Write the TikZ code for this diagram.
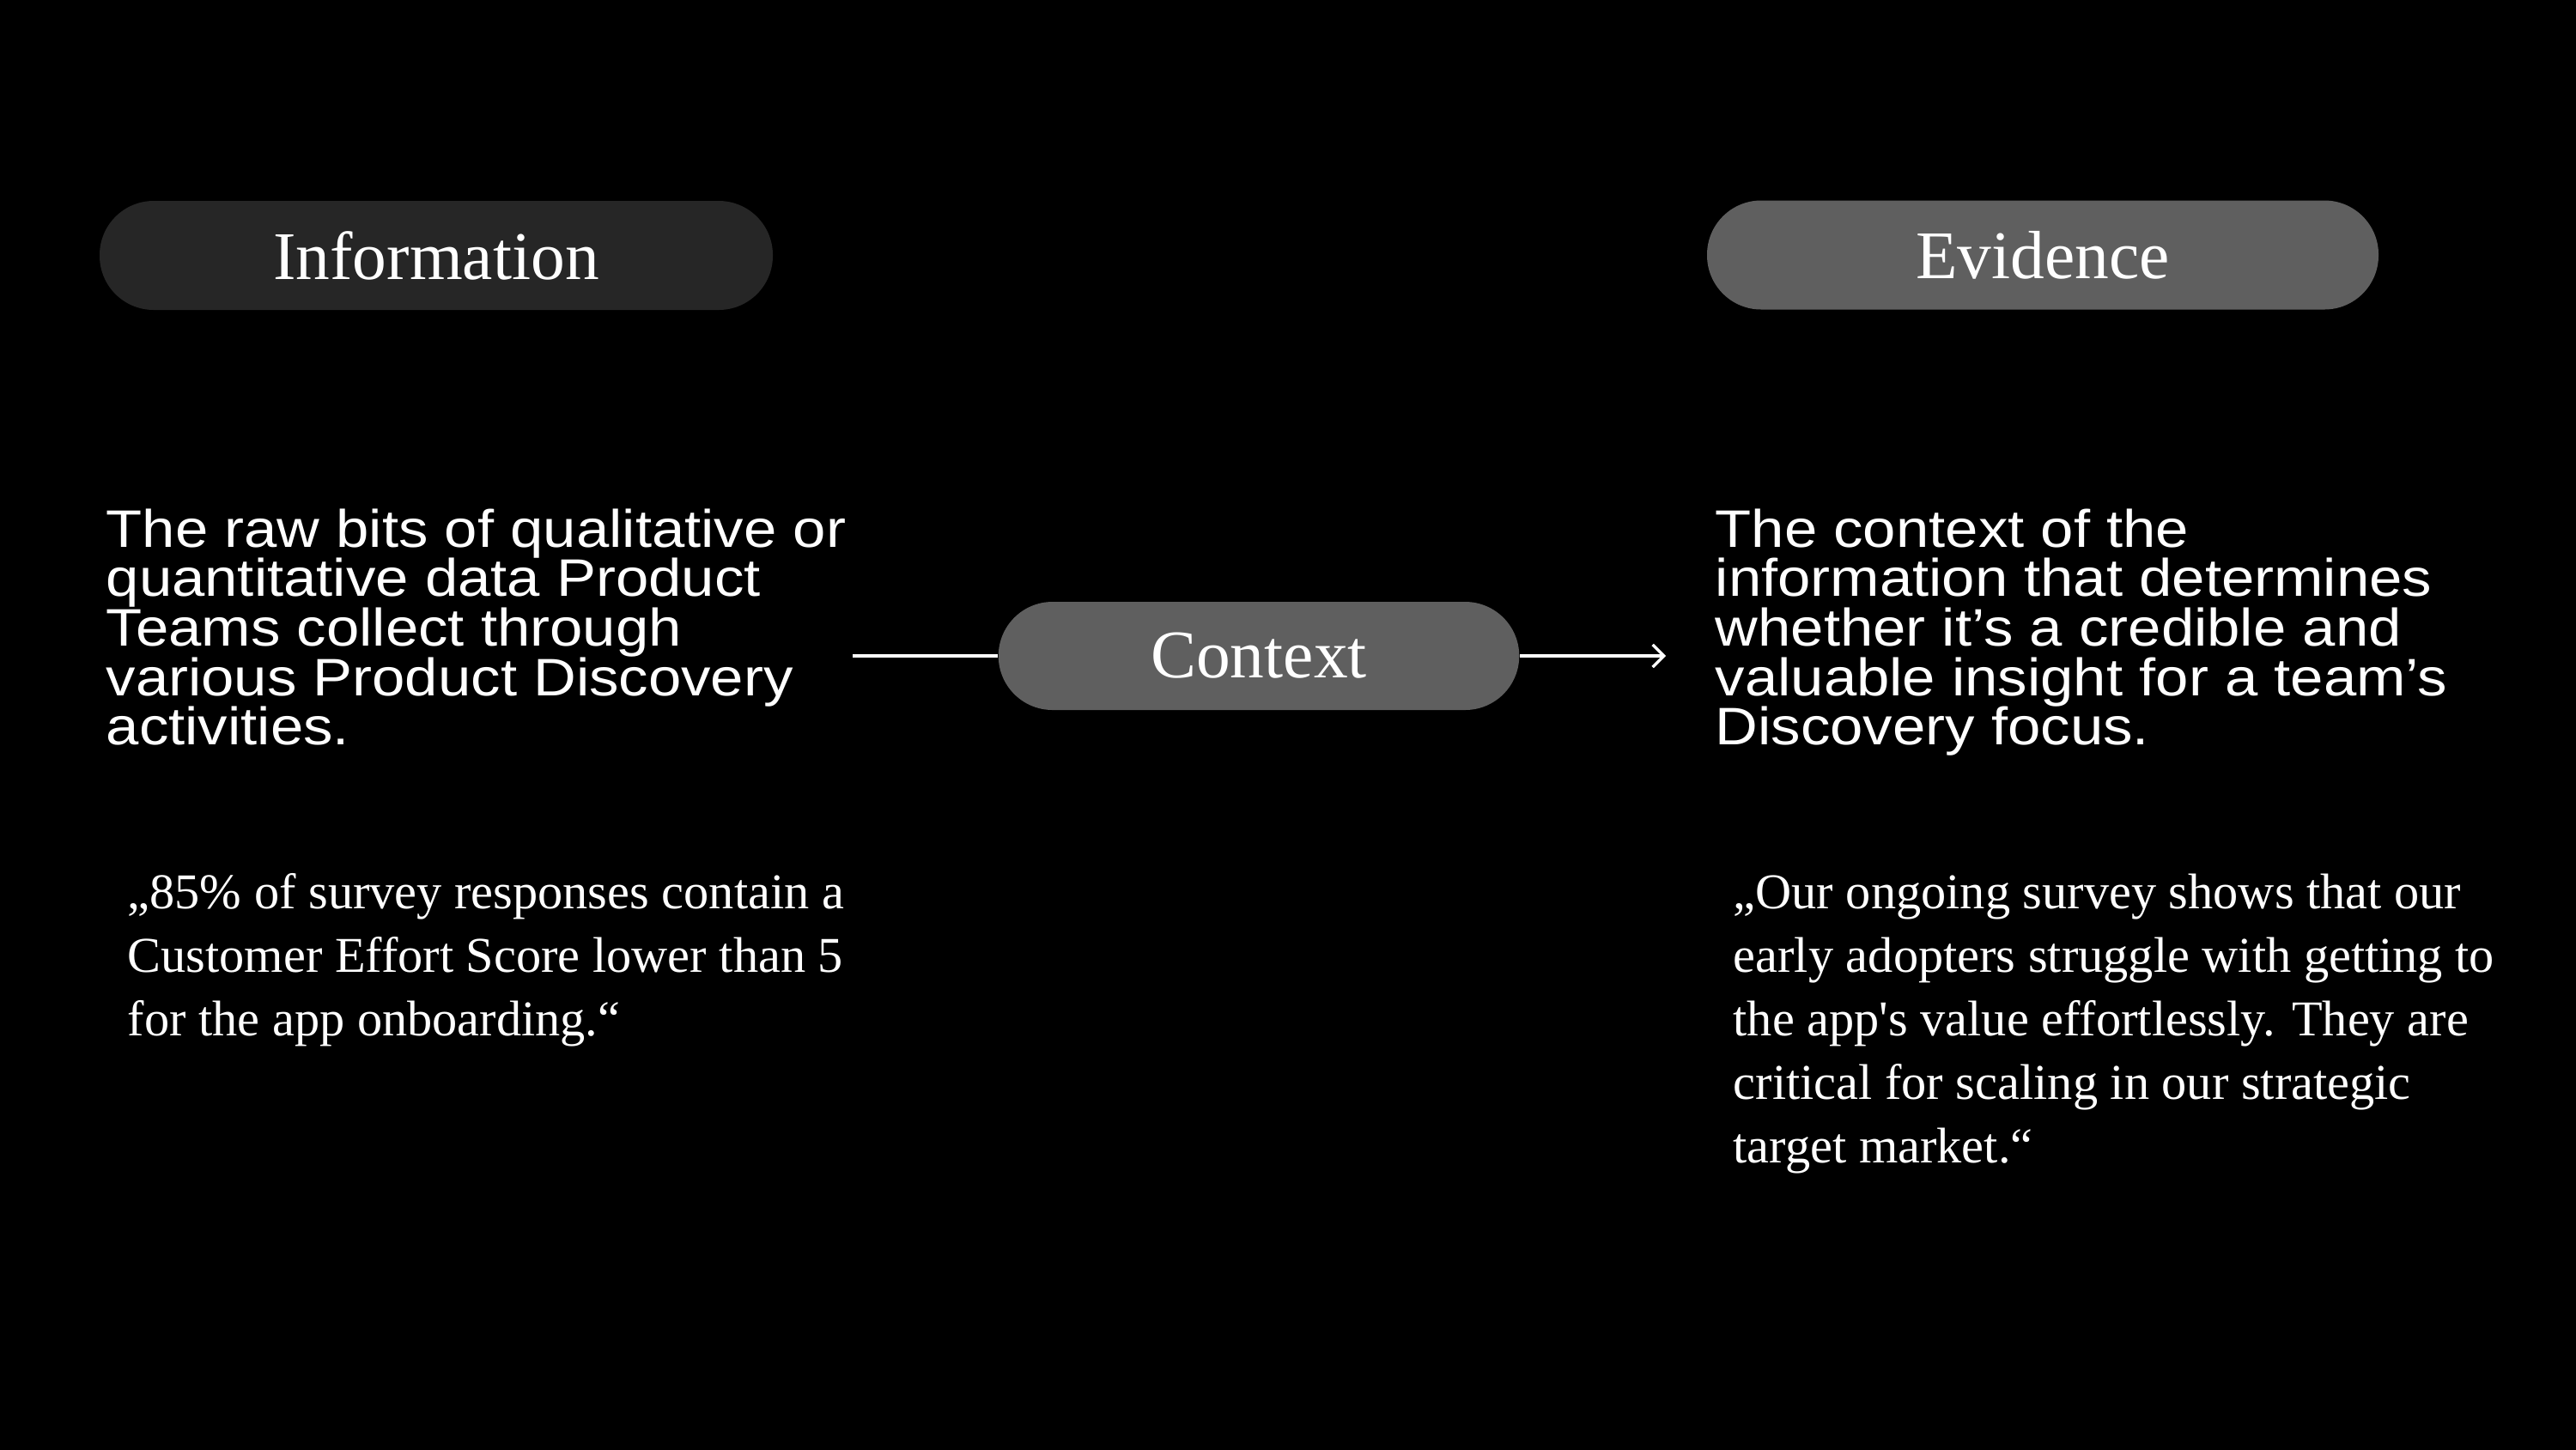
\documentclass[tikz,border=0pt]{standalone}
\usepackage{fontspec}
\usetikzlibrary{arrows.meta}
\newfontfamily\titlefont{Liberation Serif}
\newfontfamily\quotefont{Liberation Serif}
\newfontfamily\bodyfont[FakeStretch=1.12]{Liberation Sans}
\definecolor{pilldark}{HTML}{262626}
\definecolor{pillgray}{HTML}{5F5F5F}
\newcommand\bodyblock[1]{\parbox[t]{10cm}{\bodyfont\fontsize{17.5pt}{16.43pt}\selectfont\lineskiplimit=-100pt\relax\raggedright #1}}
\newcommand\quoteblock[1]{\parbox[t]{10cm}{\quotefont\fontsize{16.6pt}{21.1pt}\selectfont\lineskiplimit=-100pt\relax\raggedright #1}}
\tikzset{
  pill/.style={rounded corners=0.63cm, minimum height=1.27cm, inner sep=0pt, text=white,
    font=\titlefont\fontsize{22.6pt}{27pt}\selectfont},
  body/.style={anchor=base west, inner sep=0pt, text=white},
  conn/.style={white, line width=0.95pt},
}
\begin{document}
\begin{tikzpicture}
\useasboundingbox (0,0) rectangle (30,-16.88);
\fill[black] (-0.1,0.1) rectangle (30.1,-17);
\node[pill, fill=pilldark, minimum width=7.84cm] (info) at (5.08,-2.975) {Information};
\node[pill, fill=pillgray, minimum width=7.82cm] (evid) at (23.79,-2.97) {Evidence};
\node[pill, fill=pillgray, minimum width=6.065cm, minimum height=1.26cm] (ctx) at (14.66,-7.64) {Context};
\node[body] (infotext) at (1.23,-6.37) {\bodyblock{The raw bits of qualitative or\\quantitative data Product\\Teams collect through\\various Product Discovery\\activities.}};
\node[body] (evidtext) at (19.97,-6.37) {\bodyblock{The context of the\\information that determines\\whether it’s a credible and\\valuable insight for a team’s\\Discovery focus.}};
\node[body] (infoquote) at (1.48,-10.58) {\quoteblock{„85\% of survey responses contain a\\Customer Effort Score lower than 5\\for the app onboarding.“}};
\node[body] (evidquote) at (20.18,-10.58) {\quoteblock{„Our ongoing survey shows that our\\early adopters struggle with getting to\\the app's value effortlessly. They are\\critical for scaling in our strategic\\target market.“}};
\coordinate (lstart) at (9.93,-7.64);
\coordinate (rend) at (19.40,-7.64);
\draw[conn] (lstart) -- (ctx.west);
\draw[conn, -{Straight Barb[length=0.13cm,width=0.26cm]}] (ctx.east) -- (rend);
\end{tikzpicture}
\end{document}
